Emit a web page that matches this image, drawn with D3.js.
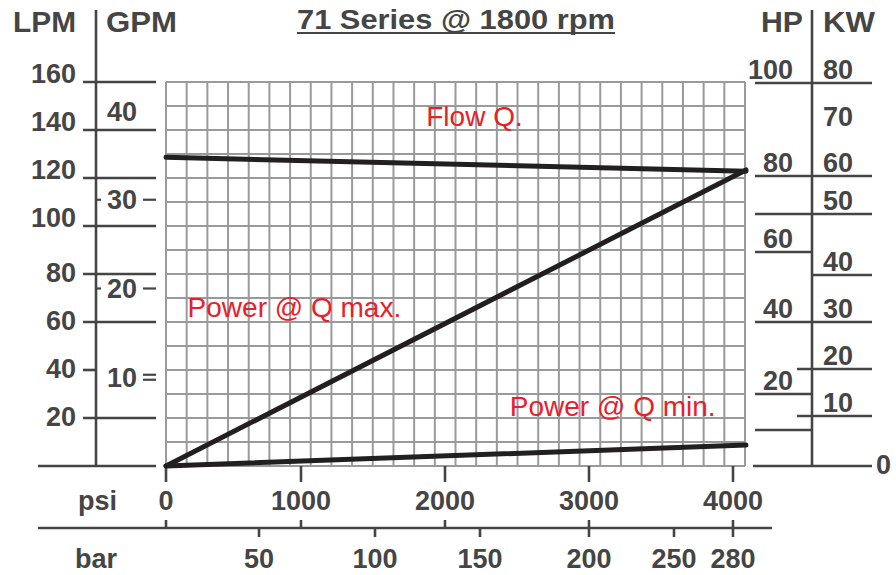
<!DOCTYPE html>
<html>
<head>
<meta charset="utf-8">
<script src="https://cdn.jsdelivr.net/npm/d3@7"></script>
<style>
  html, body { margin: 0; padding: 0; background: #fff; }
  svg { display: block; }
  text { font-family: "Liberation Sans", Arial, Helvetica, sans-serif; }
</style>
</head>
<body>
<svg id="chart" width="896" height="575"></svg>
<script>
// ---------------- data ----------------
const title = "71 Series @ 1800 rpm";
const pressurePsi = [0, 4090];
const flowLpm = [128.6, 122.8];
const powerMaxHp = [0, 81.3];
const powerMinHp = [0, 5.8];

const lpmTicks = [0, 20, 40, 60, 80, 100, 120, 140, 160];
const lpmLabels = [20, 40, 60, 80, 100, 120, 140, 160];
const gpmTicks = [10, 20, 30];
const gpmLabels = [10, 20, 30, 40];
const hpTicks = [0, 10, 20, 40, 60, 70, 80, 100];
const hpLabels = [20, 40, 60, 80, 100];
const kwTicks = [0, 10, 20, 30, 40, 50, 60, 80];
const kwLabels = [10, 20, 30, 40, 50, 60, 70, 80];
const psiTicks = [0, 1000, 2000, 3000, 4000];
const barTicks = [0, 50, 100, 150, 200, 250, 280];
const barLabels = [50, 100, 150, 200, 250, 280];
const gridCols = 28;
const gridRowStep = 10; // LPM

const seriesLabels = [
  {name: "Flow Q.", psi: 1870, lpm: 141.5},
  {name: "Power @ Q max.", psi: 160, lpm: 62},
  {name: "Power @ Q min.", psi: 2450, lpm: 21}
];

// ---------------- scales ----------------
const x = d3.scaleLinear().domain([0, 1000, 2000, 3000, 4000]).range([166, 301, 445, 589, 733]);
const xBar = d3.scaleLinear().domain([0, 50, 100, 150, 200, 250, 280]).range([166, 259, 375, 480, 589, 674, 733]);
const xGrid = d3.scaleLinear().domain([0, gridCols]).range([166, 745]);
const yLpm = d3.scaleLinear().domain([0, 160]).range([466, 82]);
const yGpm = d3.scaleLinear().domain([0, 40]).range([466, 111]);
const yHp = d3.scaleLinear().domain([0, 20, 40, 60, 80, 100]).range([466, 394, 322, 252, 176, 83]);
const yKw = d3.scaleLinear().domain([0, 10, 20, 30, 40, 50, 60, 80]).range([466, 416, 369, 322, 275, 214, 176, 83]);

const ink = "#454545";
const red = "#e8202a";
const svg = d3.select("#chart");

// ---------------- grid ----------------
const grid = svg.append("g").attr("stroke", "#9a9a9a").attr("stroke-width", 2);
grid.selectAll("line.v").data(d3.range(0, gridCols + 1)).join("line")
  .attr("x1", d => xGrid(d)).attr("x2", d => xGrid(d))
  .attr("y1", yLpm(160)).attr("y2", yLpm(0));
grid.selectAll("line.h").data(d3.range(0, 160 + 1, gridRowStep)).join("line")
  .attr("x1", xGrid(0)).attr("x2", xGrid(gridCols))
  .attr("y1", d => yLpm(d)).attr("y2", d => yLpm(d));

// ---------------- title ----------------
svg.append("text").attr("x", 456).attr("y", 29).attr("text-anchor", "middle")
  .attr("font-size", 28).attr("font-weight", "bold").attr("fill", ink)
  .attr("textLength", 318).attr("lengthAdjust", "spacingAndGlyphs").text(title);
svg.append("line").attr("x1", 297).attr("x2", 615).attr("y1", 33).attr("y2", 33)
  .attr("stroke", ink).attr("stroke-width", 2);

// ---------------- left axis (LPM / GPM) ----------------
const axL = svg.append("g").attr("stroke", ink).attr("stroke-width", 2.6);
axL.append("line").attr("x1", 96).attr("x2", 96).attr("y1", 10).attr("y2", yLpm(0));
axL.selectAll("line.t").data(lpmTicks).join("line")
  .attr("x1", d => d === 0 ? 38 : 83)
  .attr("x2", d => d === 40 ? 95 : 156)
  .attr("y1", d => yLpm(d)).attr("y2", d => yLpm(d));
// GPM ticks
gpmTicks.forEach(g => {
  const yy = yGpm(g);
  const offs = g === 10 ? [-2.5, 2.5] : [0];
  offs.forEach(o => {
    axL.append("line").attr("x1", 143).attr("x2", 156).attr("y1", yy + o).attr("y2", yy + o).attr("stroke-width", 2.2);
  });
  if (g !== 10) axL.append("line").attr("x1", 96).attr("x2", 101).attr("y1", yy).attr("y2", yy).attr("stroke-width", 2.2);
});

const tl = svg.append("g").attr("fill", ink).attr("font-weight", "bold").attr("font-size", 27);
tl.selectAll("text.lpm").data(lpmLabels).join("text")
  .attr("x", 76).attr("text-anchor", "end")
  .attr("y", d => yLpm(d) + (d >= 100 ? 1 : 7.5))
  .text(d => d);
tl.selectAll("text.gpm").data(gpmLabels).join("text")
  .attr("x", 107).attr("text-anchor", "start")
  .attr("y", d => yGpm(d) + 9.5)
  .text(d => d);

// headers
const hd = svg.append("g").attr("fill", ink).attr("font-weight", "bold").attr("font-size", 30);
hd.append("text").attr("x", 13).attr("y", 32).attr("textLength", 63).attr("lengthAdjust", "spacingAndGlyphs").text("LPM");
hd.append("text").attr("x", 106).attr("y", 32).attr("textLength", 71).attr("lengthAdjust", "spacingAndGlyphs").text("GPM");
hd.append("text").attr("x", 761).attr("y", 32).attr("textLength", 42).attr("lengthAdjust", "spacingAndGlyphs").text("HP");
hd.append("text").attr("x", 823).attr("y", 32).attr("textLength", 52).attr("lengthAdjust", "spacingAndGlyphs").text("KW");

// ---------------- right axis (HP / KW) ----------------
const axR = svg.append("g").attr("stroke", ink).attr("stroke-width", 2.6);
axR.append("line").attr("x1", 812).attr("x2", 812).attr("y1", 10).attr("y2", yHp(0));
axR.selectAll("line.hp").data(hpTicks).join("line")
  .attr("x1", d => d === 0 ? 753 : 755).attr("x2", 812)
  .attr("y1", d => yHp(d)).attr("y2", d => yHp(d));
axR.selectAll("line.kw").data(kwTicks).join("line")
  .attr("x1", d => (d === 10 || d === 20) ? 797 : 812).attr("x2", 872)
  .attr("y1", d => yKw(d)).attr("y2", d => yKw(d));

tl.selectAll("text.hp").data(hpLabels).join("text")
  .attr("x", 793).attr("text-anchor", "end")
  .attr("y", d => yHp(d) - 4).text(d => d);
tl.selectAll("text.kw").data(kwLabels).join("text")
  .attr("x", 823).attr("text-anchor", "start")
  .attr("y", d => yKw(d) - 4).text(d => d);
tl.append("text").attr("x", 876).attr("y", yKw(0) + 8).text("0");

// ---------------- bottom axes (psi / bar) ----------------
const axB = svg.append("g").attr("stroke", ink).attr("stroke-width", 2.6);
axB.selectAll("line.psi").data(psiTicks).join("line")
  .attr("x1", d => x(d)).attr("x2", d => x(d))
  .attr("y1", yLpm(0)).attr("y2", 482);
axB.selectAll("line.psi2").data(psiTicks).join("line")
  .attr("x1", d => x(d)).attr("x2", d => x(d))
  .attr("y1", 520).attr("y2", 528);
axB.append("line").attr("x1", 38).attr("x2", 772).attr("y1", 528).attr("y2", 528);
axB.selectAll("line.bar").data(barLabels).join("line")
  .attr("x1", d => xBar(d)).attr("x2", d => xBar(d))
  .attr("y1", 528).attr("y2", 537);

tl.selectAll("text.psi").data(psiTicks).join("text")
  .attr("x", d => x(d)).attr("text-anchor", "middle").attr("y", 510).text(d => d);
tl.selectAll("text.bar").data(barLabels).join("text")
  .attr("x", d => xBar(d)).attr("text-anchor", "middle").attr("y", 568).text(d => d);
tl.append("text").attr("x", 117).attr("y", 510).attr("text-anchor", "end").text("psi");
tl.append("text").attr("x", 117).attr("y", 568).attr("text-anchor", "end").text("bar");

// ---------------- series lines ----------------
const lineG = svg.append("g").attr("fill", "none").attr("stroke", "#231f20").attr("stroke-width", 5).attr("stroke-linecap", "round");
const lineFlow = d3.line().x((d, i) => x(pressurePsi[i])).y(d => yLpm(d));
const lineHp = d3.line().x((d, i) => x(pressurePsi[i])).y(d => yHp(d));
lineG.append("path").attr("d", lineFlow(flowLpm));
lineG.append("path").attr("d", lineHp(powerMaxHp));
lineG.append("path").attr("d", lineHp(powerMinHp));

// ---------------- series labels ----------------
svg.append("g").attr("fill", red).attr("font-size", 28)
  .selectAll("text").data(seriesLabels).join("text")
  .attr("x", d => x(d.psi)).attr("y", d => yLpm(d.lpm))
  .text(d => d.name);
</script>
</body>
</html>
